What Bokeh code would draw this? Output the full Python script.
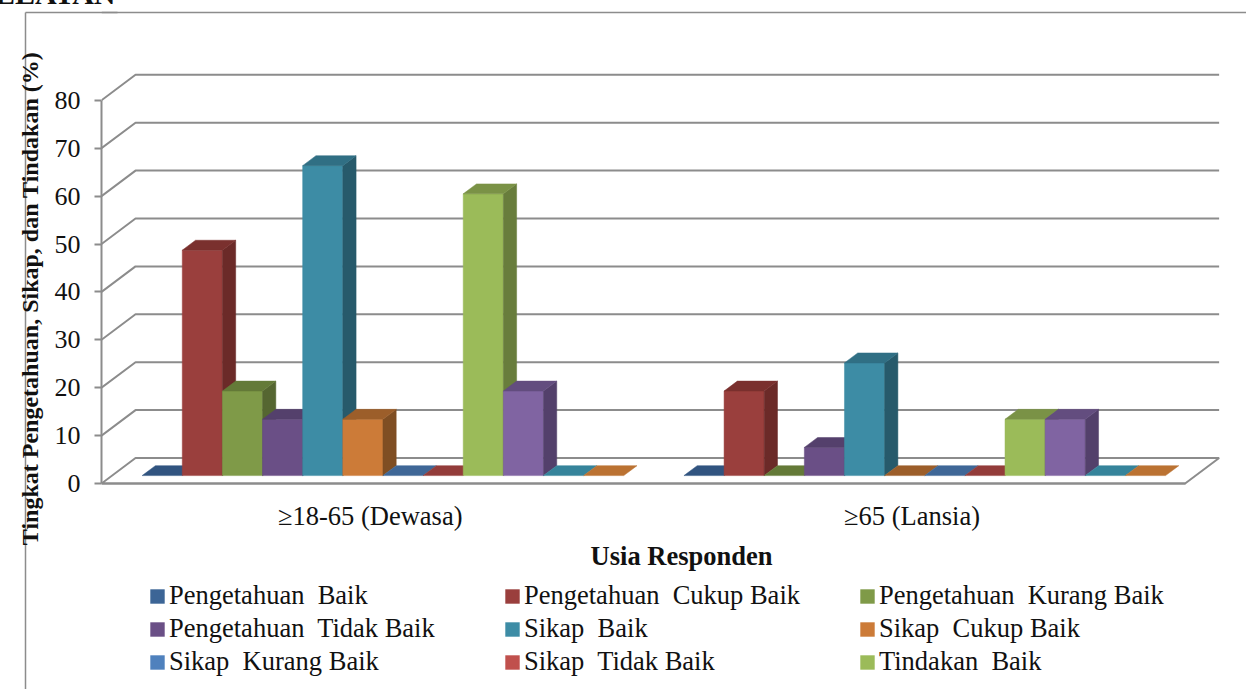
from bokeh.embed import file_html
from bokeh.models import (FixedTicker, Label, Legend, LegendItem,
                          LinearAxis, Range1d)
from bokeh.plotting import figure
from bokeh.resources import INLINE

AGE_GROUPS = ["\u226518-65 (Dewasa)", "\u226565 (Lansia)"]
SERIES = ["Pengetahuan  Baik", "Pengetahuan  Cukup Baik", "Pengetahuan  Kurang Baik",
          "Pengetahuan  Tidak Baik", "Sikap  Baik", "Sikap  Cukup Baik",
          "Sikap  Kurang Baik", "Sikap  Tidak Baik", "Tindakan  Baik",
          "Tindakan  Cukup Baik", "Tindakan  Kurang Baik", "Tindakan  Tidak Baik"]
ADULT_VALUES = [0, 47.06, 17.65, 11.76, 64.71, 11.76, 0, 0, 58.82, 17.65, 0, 0]
ELDERLY_VALUES = [0, 17.65, 0, 5.88, 23.53, 0, 0, 0, 11.76, 11.76, 0, 0]
Y_TICKS = [0, 10, 20, 30, 40, 50, 60, 70, 80]

FRONT = ["#3C6596", "#9A3F3D", "#7F9A48", "#6A4F86", "#3D8CA5", "#CC7B38",
         "#4F81BD", "#C0504D", "#9BBB59", "#8064A2", "#4BACC6", "#F79646"]
SIDE = ["#294566", "#6B2A28", "#556631", "#4A375E", "#275A6B", "#7F4E23",
        "#37598A", "#853634", "#687D3C", "#53406B", "#32778A", "#A86428"]
TOP = ["#315480", "#7A302E", "#647A38", "#54406C", "#306F84", "#9C5E2A",
       "#3F6797", "#933C3A", "#7A9246", "#634D7F", "#36849B", "#BB7232"]

GRID = "#8C8C8C"
INK = "#111111"
SERIF = "Liberation Serif"
NAN = float("nan")

# Oblique projection: the floor recedes up and to the right.
DEPTH_X = 0.0628      # categories
DEPTH_Y = 5.32        # percent
BAR_WIDTH = 1 / 13.5  # twelve bars plus a 150 % gap
GAP = 0.75 * BAR_WIDTH
BAR_NEAR = 0.31       # depth fraction of a bar's front face
BAR_FAR = 0.70        # depth fraction of a bar's back face

# The frame spans the canvas from the value axis to the right and bottom edges,
# so the legend can live inside it. Scale: pixels per category and per percent.
LEFT, ZERO_ROW = 101, 483
PX_PER_GROUP, PX_PER_PCT = 541.8, 4.79
FRAME_W, FRAME_H = 1246 - LEFT, 689
X_END = FRAME_W / PX_PER_GROUP
Y_END = ZERO_ROW / PX_PER_PCT
Y_START = -(FRAME_H - ZERO_ROW) / PX_PER_PCT
BORDER_Y = (ZERO_ROW - 12) / PX_PER_PCT

p = figure(width=1246, height=689, frame_width=FRAME_W, frame_height=FRAME_H,
           output_backend="svg", toolbar_location=None,
           x_axis_type=None, y_axis_type=None,
           x_range=Range1d(0, X_END), y_range=Range1d(Y_START, Y_END),
           min_border_left=LEFT, min_border_right=0, min_border_top=0,
           min_border_bottom=0, outline_line_color=None,
           background_fill_color=None, border_fill_color="white")
p.xgrid.visible = False
p.ygrid.visible = False

# Top edge of the enclosing border; the left edge is an axis further down.
p.segment([0], [BORDER_Y], [X_END], [BORDER_Y], line_color=GRID, line_width=1.5)

# Floor and the receding wall lines.
p.patch([0, 2, 2 + DEPTH_X, DEPTH_X], [0, 0, DEPTH_Y, DEPTH_Y],
        fill_color="white", line_color=GRID, line_width=2)
p.multi_line([[0, DEPTH_X, 2 + DEPTH_X] for _ in Y_TICKS[1:]],
             [[t, t + DEPTH_Y, t + DEPTH_Y] for t in Y_TICKS[1:]],
             line_color=GRID, line_width=2)

# Bars, drawn left to right so later faces cover earlier side faces.
swatches = []
for s in range(len(SERIES)):
    swatches.append(p.quad(left=[NAN], right=[NAN], top=[NAN], bottom=[NAN],
                           fill_color=FRONT[s], line_color=None))
for g, values in enumerate([ADULT_VALUES, ELDERLY_VALUES]):
    for s, v in enumerate(values):
        x0 = g + BAR_NEAR * DEPTH_X + GAP + s * BAR_WIDTH
        x1 = x0 + BAR_WIDTH
        y0 = BAR_NEAR * DEPTH_Y
        y1 = y0 + v
        dx = (BAR_FAR - BAR_NEAR) * DEPTH_X
        dy = (BAR_FAR - BAR_NEAR) * DEPTH_Y
        if v > 0:
            p.patch([x0, x1, x1, x0], [y0, y0, y1, y1], fill_color=FRONT[s],
                    line_color=FRONT[s], line_width=0.5)
            p.patch([x1, x1 + dx, x1 + dx, x1], [y0, y0 + dy, y1 + dy, y1],
                    fill_color=SIDE[s], line_color=SIDE[s], line_width=0.5)
        p.patch([x0, x1, x1 + dx, x0 + dx], [y1, y1, y1 + dy, y1 + dy],
                fill_color=TOP[s], line_color=TOP[s], line_width=0.5)

# Axes sit on the front plane of the chart.
y_axis = LinearAxis(ticker=FixedTicker(ticks=Y_TICKS), bounds=(0, 80),
                    axis_line_color=GRID, axis_line_width=2,
                    major_tick_line_color=GRID, major_tick_line_width=2,
                    major_tick_in=0, major_tick_out=7, minor_tick_out=0, minor_tick_in=0,
                    major_label_text_font=SERIF, major_label_text_font_size="26px",
                    major_label_text_color=INK, major_label_standoff=14)
p.add_layout(y_axis, "left")

x_axis = LinearAxis(ticker=FixedTicker(ticks=[0.496, 1.496]), bounds=(0, 2), fixed_location=0,
                    major_label_overrides={0.496: AGE_GROUPS[0], 1.496: AGE_GROUPS[1]},
                    axis_line_color=GRID, axis_line_width=2, major_tick_line_color=None,
                    minor_tick_out=0, minor_tick_in=0,
                    major_label_text_font=SERIF, major_label_text_font_size="26.5px",
                    major_label_text_color=INK, major_label_standoff=11)
p.add_layout(x_axis, "below")

p.add_layout(Label(x=681, y=555, x_units="canvas", y_units="canvas",
                   text="Usia Responden", text_font=SERIF, text_font_style="bold",
                   text_font_size="26.5px", text_color=INK,
                   text_align="center", text_baseline="middle"), "below")
p.add_layout(Label(x=29, y=298, x_units="canvas", y_units="canvas",
                   text="Tingkat Pengetahuan, Sikap, dan Tindakan (%)", angle=90,
                   angle_units="deg", text_font=SERIF, text_font_style="bold",
                   text_font_size="24px", text_color=INK,
                   text_align="center", text_baseline="middle"), "left")
p.add_layout(Label(x=115, y=-7, x_units="canvas", y_units="canvas",
                   text="SELATAN", text_font=SERIF, text_font_style="bold",
                   text_font_size="30px", text_color=INK,
                   text_align="right", text_baseline="alphabetic"), "below")

# Left edge of the enclosing border: the outermost axis, pushed out by a spacer
# axis whose only tick lies off scale; the border's inward tick closes the corner.
spacer_axis = LinearAxis(ticker=FixedTicker(ticks=[-1000]), axis_line_color=None,
                         major_tick_line_color=GRID, major_tick_in=0, major_tick_out=17,
                         minor_tick_in=0, minor_tick_out=0,
                         major_label_text_color=None,
                         major_label_text_font_size="1px", major_label_standoff=0)
p.add_layout(spacer_axis, "left")
border_axis = LinearAxis(ticker=FixedTicker(ticks=[BORDER_Y]), bounds=(Y_START, BORDER_Y),
                         axis_line_color=GRID, axis_line_width=1.5,
                         major_tick_line_color=GRID, major_tick_line_width=1.5,
                         major_tick_in=LEFT - 9, major_tick_out=0,
                         minor_tick_in=0, minor_tick_out=0, major_label_standoff=0,
                         major_label_text_color=None, major_label_text_font_size="1px")
p.add_layout(border_axis, "left")

legend = Legend(items=[LegendItem(label=SERIES[i], renderers=[swatches[i]]) for i in range(9)],
                ncols=3, location=(47, 11), orientation="horizontal",
                border_line_color=None, background_fill_alpha=0,
                glyph_width=18, glyph_height=18, label_standoff=3,
                label_width=334, label_height=33, spacing=0, padding=0, margin=0,
                label_text_font=SERIF, label_text_font_size="26.5px",
                label_text_color=INK)
p.add_layout(legend)

open("out.html", "w").write(file_html(p, INLINE))
